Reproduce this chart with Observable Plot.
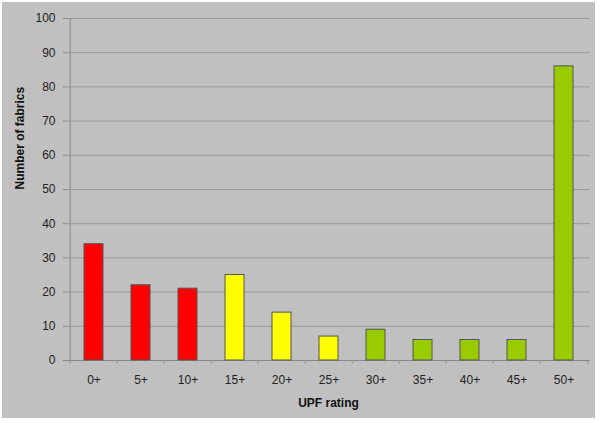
<!DOCTYPE html>
<html>
<head>
<meta charset="utf-8">
<script src="https://cdn.jsdelivr.net/npm/d3@7"></script>
<script src="https://cdn.jsdelivr.net/npm/@observablehq/plot@0.6"></script>
<style>
  html, body { margin: 0; padding: 0; background: #ffffff; }
  #wrap { position: relative; width: 600px; height: 423px; background: #ffffff; overflow: hidden; }
  #chart { position: absolute; left: 2px; top: 2px; }
  #chart svg { background: #c0c0c0; display: block; }
</style>
</head>
<body>
<div id="wrap"><div id="chart"></div></div>
<script>
const categories = ["0+", "5+", "10+", "15+", "20+", "25+", "30+", "35+", "40+", "45+", "50+"];
const values = [34, 22, 21, 25, 14, 7, 9, 6, 6, 6, 86];
const groups = ["low", "low", "low", "mid", "mid", "mid", "high", "high", "high", "high", "high"];
const yTicks = [0, 10, 20, 30, 40, 50, 60, 70, 80, 90, 100];
const groupColors = { low: "#ff0000", mid: "#ffff00", high: "#99cc00" };

const data = categories.map((c, i) => ({ cat: c, value: values[i], group: groups[i] }));

const W = 593, H = 416;
const mL = 64, mR = 5, mT = 16, mB = 58;
const band = (W - mL - mR) / categories.length;
const unitPx = (H - mT - mB) / 100;
const tickLen = 4;

const chart = Plot.plot({
  width: W,
  height: H,
  marginLeft: mL,
  marginRight: mR,
  marginTop: mT,
  marginBottom: mB,
  style: { fontFamily: "'Liberation Sans', Arial, Helvetica, sans-serif", fontSize: "12px", color: "#222", background: "#c0c0c0" },
  x: { domain: categories, paddingInner: 0.6, paddingOuter: 0.3, align: 0.5, label: null },
  y: { domain: [0, 100], ticks: yTicks, label: null },
  color: { domain: Object.keys(groupColors), range: Object.values(groupColors) },
  marks: [
    Plot.ruleY(yTicks.filter(t => t > 0), { stroke: "#999", strokeWidth: 1, strokeOpacity: 1 }),
    Plot.axisY({ ticks: yTicks, tickSize: 3, tickPadding: 8, stroke: "#888", fontSize: 12, fill: "#222", label: null }),
    Plot.ruleX([categories[0]], { x: d => d, dx: -band / 2, y1: 0, y2: 100, stroke: "#888", strokeOpacity: 1 }),
    Plot.ruleY([0], { stroke: "#888", strokeOpacity: 1 }),
    Plot.ruleX(categories, { x: d => d, dx: -band / 2, y1: 0, y2: tickLen / unitPx, dy: tickLen, stroke: "#999", strokeOpacity: 1 }),
    Plot.ruleX([categories[categories.length - 1]], { x: d => d, dx: band / 2, y1: 0, y2: tickLen / unitPx, dy: tickLen, stroke: "#999", strokeOpacity: 1 }),
    Plot.barY(data, { x: "cat", y: "value", fill: "group", stroke: "#555", strokeWidth: 1 }),
    Plot.axisX({ tickSize: 0, tickPadding: 15, fontSize: 12, fill: "#222", label: null }),
    Plot.text(["UPF rating"], { frameAnchor: "bottom", dy: 46, fontWeight: "bold", fontSize: 12, fill: "#111" }),
    Plot.text(["Number of fabrics"], { frameAnchor: "left", dx: -46, rotate: -90, fontWeight: "bold", fontSize: 12, fill: "#111" })
  ]
});
document.getElementById("chart").appendChild(chart);
</script>
</body>
</html>
